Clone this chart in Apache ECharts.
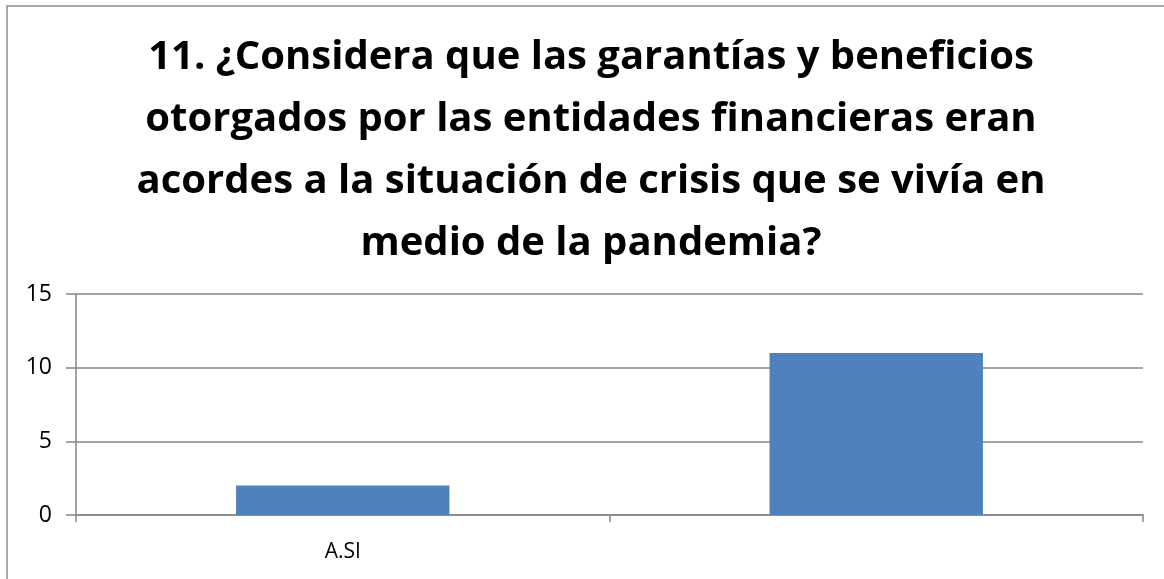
<!DOCTYPE html>
<html><head><meta charset="utf-8">
<script src="https://cdn.jsdelivr.net/npm/echarts@6/dist/echarts.min.js"></script>
<style>html,body{margin:0;padding:0;background:#fff}#c{width:1164px;height:579px}</style>
</head><body><div id="c"></div>
<script>
const titleLines = [
  "11. ¿Considera que las garantías y beneficios",
  "otorgados por las entidades financieras eran",
  "acordes a la situación de crisis que se vivía en",
  "medio de la pandemia?"
];
const categories = ["A.SI", ""];
const values = [2, 11];
const yTicks = { min: 0, max: 15, interval: 5 };

const chart = echarts.init(document.getElementById('c'), null, {renderer: 'canvas'});
chart.setOption({
  animation: false,
  backgroundColor: '#fff',
  graphic: [{
    type: 'rect', shape: {x: 7, y: 6, width: 1300, height: 700},
    style: {fill: 'none', stroke: '#8c8c8c', lineWidth: 1.5}, silent: true, z: -1
  }],
  title: {
    text: titleLines.join('\n'),
    left: 591, textAlign: 'center', top: 27, padding: 0,
    textStyle: {fontFamily: 'Open Sans', fontWeight: 'bold', fontSize: 40, lineHeight: 62, color: '#000'}
  },
  grid: {left: 76, right: 21, top: 294, bottom: 64, containLabel: false},
  xAxis: {
    type: 'category', data: categories, boundaryGap: true,
    axisLine: {lineStyle: {color: '#868686', width: 1.5}},
    axisTick: {show: true, length: 7, lineStyle: {color: '#868686', width: 1.5}},
    axisLabel: {margin: 27, fontFamily: 'Open Sans', fontSize: 21, color: '#000'}
  },
  yAxis: {
    type: 'value', min: yTicks.min, max: yTicks.max, interval: yTicks.interval,
    axisLine: {show: true, lineStyle: {color: '#868686', width: 1.5}},
    axisTick: {show: true, length: 10, lineStyle: {color: '#868686', width: 1.5}},
    splitLine: {lineStyle: {color: '#868686', width: 1.5}},
    axisLabel: {margin: 24, fontFamily: 'Open Sans', fontSize: 23, color: '#000'}
  },
  series: [{
    type: 'bar', data: values, barWidth: '40%',
    itemStyle: {color: '#4F81BD'}
  }]
});
</script></body></html>
